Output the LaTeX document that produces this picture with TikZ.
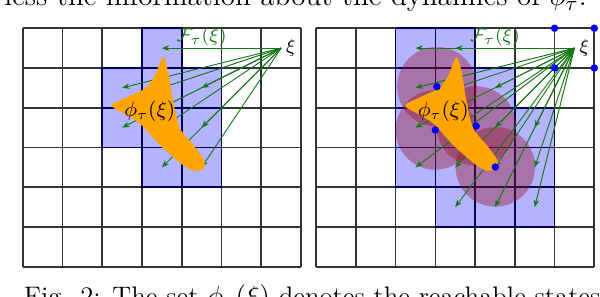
\documentclass[tikz,border=0pt]{standalone}
\usepackage{amsmath,amssymb}
\usepackage{tikz}
\usetikzlibrary{arrows.meta}
\definecolor{reachblue}{RGB}{179,179,255}
\definecolor{flowgreen}{RGB}{20,120,20}
\definecolor{setorange}{RGB}{255,165,0}
\definecolor{ballred}{RGB}{150,20,40}
\colorlet{cellline}{blue!35!black}

% outline of the set phi_tau(xi), in cell units of one grid
\newcommand{\setoutline}{plot[smooth cycle,tension=0.55] coordinates
  {(3.53,5.27) (3.66,4.90) (3.78,4.19) (3.95,3.50) (4.30,3.05) (4.55,2.70) (4.56,2.48) (4.30,2.42)
   (4.00,2.58) (3.45,3.06) (2.95,3.60) (2.55,3.85) (2.24,4.06) (2.65,4.28) (3.07,4.48) (3.32,4.80)}}

\begin{document}
\begin{tikzpicture}[x=0.6cm,y=0.6cm,
    gridline/.style={black!80,line width=0.7pt},
    reachcell/.style={fill=reachblue,draw=cellline,line width=0.7pt},
    flow/.style={-{Stealth[length=3.2pt,width=2.4pt]},flowgreen,line width=0.4pt},
    ball/.style={fill=ballred,fill opacity=0.4},
    sample/.style={circle,fill=blue,inner sep=0pt,minimum size=3.2pt}]
  \clip (-0.571,-0.737) rectangle (14.523,6.710);
  \fill[white] (-0.571,-0.737) rectangle (14.523,6.710);
  % surrounding text of the page
  \node[anchor=base east,inner sep=0pt,font=\fontsize{12.5}{15}\selectfont] (prevline) at (14.2,6.56)
    {e less the information about the dynamics of $\phi_\tau$.};
  \node[anchor=base west,inner sep=0pt,font=\fontsize{11.5}{14}\selectfont] (caption) at (0.02,-0.963)
    {Fig. 2: The set $\phi_\tau(\xi)$ denotes the reachable states};
  % left grid
  \begin{scope}
    \draw[gridline,step=1] (0,0) grid (7,6);
    \foreach \c/\r in {3/5,2/4,3/4,4/4,2/3,3/3,4/3,3/2,4/2}
      \draw[reachcell] (\c,\r) rectangle ++(1,1);
    \coordinate (xiL) at (6.5,5.5);
    \foreach \c/\r in {3/5,2/4,3/4,4/4,2/3,3/3,4/3,3/2,4/2} {
      \coordinate (tL-\c-\r) at (\c+0.5,\r+0.5);
      \draw[flow] (xiL) -- (tL-\c-\r);
    }
    \fill[setorange] \setoutline;
    \node[font=\small] (phiL) at (3.2,3.9) {$\phi_\tau(\xi)$};
    \node[font=\footnotesize,flowgreen,above,inner sep=0.5pt] (FL) at (4.5,5.5) {$\mathcal{F}_\tau(\xi)$};
    \node[font=\footnotesize,right,inner sep=2pt] (xiLlab) at (xiL) {$\xi$};
  \end{scope}
  % right grid
  \begin{scope}[shift={(7.38,0)}]
    \draw[gridline,step=1] (0,0) grid (7,6);
    \foreach \c/\r in {2/5,3/5,2/4,3/4,4/4,2/3,3/3,4/3,5/3,2/2,3/2,4/2,5/2,3/1,4/1,5/1}
      \draw[reachcell] (\c,\r) rectangle ++(1,1);
    \coordinate (p1) at (3.04,4.53);
    \coordinate (p2) at (3.00,3.44);
    \coordinate (p3) at (4.03,3.54);
    \coordinate (p4) at (4.51,2.51);
    \foreach \p in {p1,p2,p3,p4}
      \fill[ball] (\p) circle (1);
    \coordinate (xiR) at (6.5,5.5);
    \foreach \c/\r in {2/5,3/5,2/4,3/4,4/4,2/3,3/3,4/3,5/3,2/2,3/2,4/2,5/2,3/1,4/1,5/1} {
      \coordinate (tR-\c-\r) at (\c+0.5,\r+0.5);
      \draw[flow] (xiR) -- (tR-\c-\r);
    }
    \fill[setorange] \setoutline;
    \node[font=\small] (phiR) at (3.2,3.9) {$\phi_\tau(\xi)$};
    \foreach \p in {p1,p2,p3,p4}
      \node[sample] (s\p) at (\p) {};
    \foreach \x/\y [count=\k] in {6/5,7/5,6/6,7/6}
      \node[sample] (corner\k) at (\x,\y) {};
    \node[font=\footnotesize,flowgreen,above,inner sep=0.5pt] (FR) at (4.5,5.5) {$\mathcal{F}_\tau(\xi)$};
    \node[font=\footnotesize,right,inner sep=2pt] (xiRlab) at (xiR) {$\xi$};
  \end{scope}
\end{tikzpicture}
\end{document}
